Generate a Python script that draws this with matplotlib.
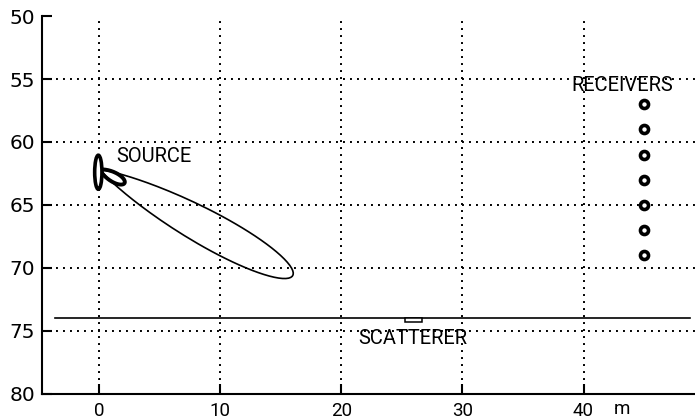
import numpy as np
import matplotlib
matplotlib.use("Agg")
import matplotlib.pyplot as plt
from matplotlib.patches import Ellipse, Rectangle
from matplotlib.transforms import blended_transform_factory

# geometry of the tank (metres)
x_ticks = [0, 10, 20, 30, 40]
y_ticks = [50, 55, 60, 65, 70, 75, 80]

source_xy = (0.1, 62.2)
beam_tip = (16.0, 70.6)      # far end of the main lobe
beam_sharpness = 55          # cos^n lobe exponent
near_lobe_len = 2.3          # short thick lobe next to the source
near_lobe_sharpness = 12

receiver_x = [45, 45, 45, 45, 45, 45, 45]
receiver_y = [57, 59, 61, 63, 65, 67, 69]

surface_x = [-3.6, 48.8]
surface_y = [74.0, 74.0]
scatterer_x = 25.3
scatterer_w = 1.4
scatterer_h = 0.3

# px per metre in x and y, used to keep the lobe shape round on screen
SX, SY = 12.1, 12.6


def lobe_outline(origin, tip, n, length=None):
    ox, oy = origin
    du = (tip[0] - ox) * SX
    dv = (tip[1] - oy) * SY
    ang = np.arctan2(dv, du)
    L = np.hypot(du, dv) if length is None else length * SX
    psi = np.linspace(-np.pi / 2, np.pi / 2, 400)
    r = L * np.cos(psi) ** n
    u = r * np.cos(psi + ang)
    v = r * np.sin(psi + ang)
    return ox + u / SX, oy + v / SY


fig = plt.figure(figsize=(6.95, 4.19), dpi=100)
ax = fig.add_axes([0.0604, 0.0597, 0.9396, 0.9021])

ax.set_xlim(-4.7, 49.2)
ax.set_ylim(80, 50)

for s in ["top", "right"]:
    ax.spines[s].set_visible(False)
for s in ["left", "bottom"]:
    ax.spines[s].set_linewidth(1.5)
    ax.spines[s].set_color("black")

ax.set_xticks(x_ticks)
ax.set_yticks(y_ticks)
ax.tick_params(direction="in", length=7, width=1.5, color="black")
ax.tick_params(axis="y", pad=5, labelsize=14.5)
ax.tick_params(axis="x", pad=6, labelsize=13.5)
for lbl in ax.get_xticklabels():
    lbl.set_family("Roboto")

# dotted grid (no lines on the frame limits)
for gx in x_ticks:
    ax.axvline(gx, color="black", lw=1.4, ls=(0, (1, 2.6)), zorder=1)
for gy in y_ticks[1:-1]:
    ax.axhline(gy, color="black", lw=1.4, ls=(0, (1, 2.6)), zorder=1)

# surface line and scatterer
ax.plot(surface_x, surface_y, color="black", lw=1.2, zorder=3)
ax.add_patch(Rectangle((scatterer_x, surface_y[0]), scatterer_w, scatterer_h,
                       facecolor="white", edgecolor="black", lw=1.1, zorder=4))

# source beam
bx, by = lobe_outline(source_xy, beam_tip, beam_sharpness)
ax.plot(bx, by, color="black", lw=1.2, zorder=3)
nx, ny = lobe_outline(source_xy, beam_tip, near_lobe_sharpness, near_lobe_len)
ax.plot(nx, ny, color="black", lw=2.8, zorder=4)
ax.add_patch(Ellipse((source_xy[0] - 0.15, 62.4), 0.6, 2.7,
                     facecolor="white", edgecolor="black", lw=2.6, zorder=5))

# receivers
ax.plot(receiver_x, receiver_y, ls="none", marker="o", ms=5.8,
        mfc="white", mec="black", mew=2.6, zorder=5)

label_kw = dict(family="Roboto", fontsize=14.5, color="black")
ax.text(1.45, 61.15, "SOURCE", ha="left", va="center", zorder=6, **label_kw)
ax.text(43.2, 55.5, "RECEIVERS", ha="center", va="center", zorder=6, **label_kw)
ax.text(25.9, 75.6, "SCATTERER", ha="center", va="center", zorder=6, **label_kw)

trans = blended_transform_factory(ax.transData, ax.transAxes)
ax.annotate("m", xy=(43.2, 0), xycoords=trans, xytext=(0, -4.2),
            textcoords="offset points", ha="center", va="top",
            family="Roboto", fontsize=13.5, annotation_clip=False)

fig.savefig("out.png", dpi=100)
